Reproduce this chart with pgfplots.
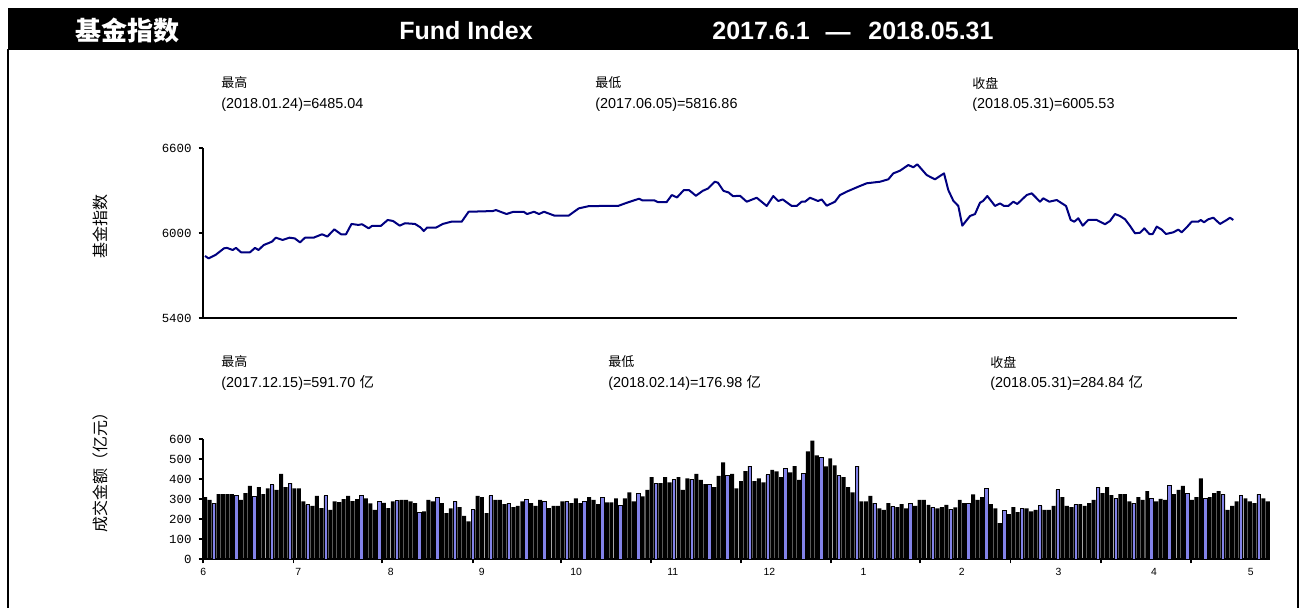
\documentclass[border=0pt]{standalone}
\usepackage{pgfplots}
\pgfplotsset{compat=1.18}
\usepackage{pgfplotstable}
\usepackage{fontspec}
\setmainfont{Liberation Sans}
\newfontfamily\cjk{Noto Sans CJK SC}
\newfontfamily\tickfont{Liberation Mono}
\definecolor{barblue}{RGB}{130,130,232}
\definecolor{linenavy}{RGB}{0,0,128}

\pgfplotstableread{
x y
2 5838
5.6 5821
12.5 5845
21 5892
24 5895
29.7 5880
33 5895
38 5864
47 5864
52 5895
55.5 5880
60.7 5915
69 5939
72.8 5967
79.6 5951
86.5 5967
91.7 5962
97 5934
102 5967
110.6 5967
119 5991
124.4 5975
131.3 6026
138 5991
143 5991
148.5 6064
155.4 6057
159 6062
165.7 6033
169 6050
177.8 6050
184.7 6092
190 6085
196.7 6052
202 6069
212 6064
217.4 6040
220.8 6014
224 6038
233 6038
239.8 6064
248.4 6080
258.7 6080
265.6 6150
289.7 6155
293 6162
303.5 6134
310.4 6150
320.7 6150
324 6134
331 6150
336 6134
341 6150
351.7 6122
365.5 6122
375.8 6174
386 6190
415.4 6192
424 6214
436 6242
439.5 6230
451.5 6230
455 6218
463.6 6218
468.8 6268
474 6251
480.8 6303
486 6303
492.9 6263
499.8 6298
505 6314
511.8 6362
515 6355
520.4 6298
525.6 6286
530 6260
537 6263
543.7 6221
553.7 6249
563.7 6191
570.3 6261
575.3 6226
579.7 6237
588.7 6191
593.7 6191
598.7 6221
602 6221
607 6249
615 6226
618.7 6237
623.7 6193
632 6221
637 6268
643.7 6292
657 6332
663.7 6351
677 6362
685.3 6379
690.3 6421
697 6440
705.3 6480
710.3 6464
714.3 6485
723.7 6409
727 6397
732 6379
741 6421
745.3 6303
750.3 6228
755.3 6191
759.3 6052
767 6120
772 6134
777 6214
780 6226
784.3 6261
792 6191
797 6209
801 6191
805.3 6191
810.3 6221
814.3 6205
823.7 6268
828.7 6280
837 6221
840.3 6245
846.3 6221
853.7 6233
863 6191
867.7 6092
871.3 6080
875.3 6104
879.7 6052
885.3 6092
893.7 6092
902 6062
907 6085
912 6134
917 6120
922 6097
927 6050
932 5998
937 6002
941.3 6033
946.3 5993
949.7 5993
953.7 6045
958.7 6024
963 5993
970.3 6005
975.3 6024
978.7 6005
983.7 6040
988.7 6080
995.3 6080
997.7 6092
1001 6076
1005.3 6097
1010.3 6108
1017 6064
1023.7 6092
1027 6108
1030.3 6092
}\linedata

\pgfplotstableread{
idx val c
0 310 0
1 296 0
2 280 1
3 325 0
4 325 0
5 325 0
6 325 0
7 320 1
8 296 0
9 330 0
10 366 0
11 313 1
12 360 0
13 325 0
14 353 0
15 371 1
16 346 0
17 426 0
18 360 0
19 380 1
20 353 0
21 353 0
22 288 0
23 271 1
24 266 0
25 316 0
26 255 0
27 316 1
28 246 0
29 288 0
30 285 0
31 300 0
32 316 0
33 290 0
34 300 0
35 320 1
36 303 0
37 278 0
38 246 0
39 287 1
40 281 0
41 254 0
42 288 0
43 293 1
44 296 0
45 296 0
46 288 0
47 280 0
48 235 1
49 238 0
50 296 0
51 288 0
52 308 1
53 280 0
54 230 0
55 253 0
56 288 1
57 260 0
58 216 0
59 188 0
60 246 1
61 316 0
62 310 0
63 230 0
64 316 1
65 296 0
66 296 0
67 275 0
68 280 1
69 260 0
70 266 0
71 288 0
72 296 1
73 280 0
74 266 0
75 296 0
76 288 1
77 255 0
78 266 0
79 266 0
80 288 0
81 288 1
82 280 0
83 303 0
84 280 0
85 288 1
86 310 0
87 296 0
88 275 0
89 310 1
90 283 0
91 283 0
92 303 0
93 266 1
94 303 0
95 333 0
96 288 0
97 330 1
98 313 0
99 346 0
100 410 0
101 380 1
102 380 0
103 410 0
104 383 0
105 396 1
106 410 0
107 346 0
108 403 0
109 400 1
110 426 0
111 396 0
112 375 0
113 371 1
114 360 0
115 416 0
116 483 0
117 416 1
118 426 0
119 353 0
120 390 0
121 440 0
122 465 1
123 390 0
124 403 0
125 383 0
126 421 1
127 446 0
128 438 0
129 410 0
130 451 1
131 433 0
132 465 0
133 396 0
134 430 1
135 538 0
136 592 0
137 518 0
138 510 1
139 463 0
140 503 0
141 468 0
142 416 1
143 410 0
144 360 0
145 333 0
146 465 1
147 288 0
148 288 0
149 316 0
150 280 1
151 253 0
152 246 0
153 280 0
154 263 1
155 260 0
156 275 0
157 253 0
158 280 1
159 266 0
160 296 0
161 296 0
162 271 0
163 258 1
164 253 0
165 260 0
166 271 0
167 250 1
168 258 0
169 296 0
170 280 0
171 280 1
172 323 0
173 296 0
174 310 0
175 351 1
176 275 0
177 253 0
178 180 0
179 243 1
180 225 0
181 260 0
182 235 0
183 253 1
184 253 0
185 238 0
186 246 0
187 266 1
188 246 0
189 246 0
190 266 0
191 346 1
192 310 0
193 266 0
194 260 0
195 271 1
196 275 0
197 266 0
198 280 0
199 296 0
200 360 1
201 330 0
202 360 0
203 320 0
204 301 1
205 325 0
206 325 0
207 288 0
208 280 1
209 310 0
210 296 0
211 340 0
212 303 1
213 288 0
214 301 0
215 296 0
216 366 1
217 325 0
218 346 0
219 366 0
220 330 1
221 296 0
222 310 0
223 403 0
224 301 1
225 310 0
226 330 0
227 340 0
228 323 1
229 246 0
230 266 0
231 288 0
232 316 1
233 303 0
234 288 0
235 280 0
236 323 1
237 303 0
238 288 0
}\bardata

\begin{document}
\begin{tikzpicture}
\useasboundingbox (0,0) rectangle (653pt,-303.5pt);
\begin{scope}[x=0.5pt,y=-0.5pt]
\fill[black] (8,8) rectangle (1298,50);
\draw[line width=1pt] (8,49) -- (8,610);
\draw[line width=1pt] (1298,49) -- (1298,610);
\node[white,font=\cjk\bfseries\fontsize{13}{13}\selectfont] at (127,31) {基金指数};
\node[white,font=\bfseries\fontsize{12.5}{12.5}\selectfont] at (466,31) {Fund Index};
\node[white,anchor=west,inner sep=0pt,font=\bfseries\fontsize{12.5}{12.5}\selectfont] at (712,31) {2017.6.1};
\node[white,anchor=base,inner sep=0pt,font=\bfseries\fontsize{12.5}{12.5}\selectfont] at (838,40) {—};
\node[white,anchor=west,inner sep=0pt,font=\bfseries\fontsize{12.5}{12.5}\selectfont] at (868,31) {2018.05.31};
% annotations row 1
\node[anchor=west,inner sep=0pt,font=\cjk\fontsize{6.5}{7}\selectfont] at (221,83) {最高};
\node[anchor=west,inner sep=0pt,font=\fontsize{7.2}{8}\selectfont] at (221,105) {(2018.01.24)=6485.04};
\node[anchor=west,inner sep=0pt,font=\cjk\fontsize{6.5}{7}\selectfont] at (595,83) {最低};
\node[anchor=west,inner sep=0pt,font=\fontsize{7.2}{8}\selectfont] at (595,105) {(2017.06.05)=5816.86};
\node[anchor=west,inner sep=0pt,font=\cjk\fontsize{6.5}{7}\selectfont] at (972,83) {收盘};
\node[anchor=west,inner sep=0pt,font=\fontsize{7.2}{8}\selectfont] at (972,105) {(2018.05.31)=6005.53};
% annotations row 2
\node[anchor=west,inner sep=0pt,font=\cjk\fontsize{6.5}{7}\selectfont] at (221,362) {最高};
\node[anchor=west,inner sep=0pt,font=\fontsize{7.2}{8}\selectfont] at (221,383) {(2017.12.15)=591.70 {\cjk 亿}};
\node[anchor=west,inner sep=0pt,font=\cjk\fontsize{6.5}{7}\selectfont] at (608,362) {最低};
\node[anchor=west,inner sep=0pt,font=\fontsize{7.2}{8}\selectfont] at (608,383) {(2018.02.14)=176.98 {\cjk 亿}};
\node[anchor=west,inner sep=0pt,font=\cjk\fontsize{6.5}{7}\selectfont] at (990,362) {收盘};
\node[anchor=west,inner sep=0pt,font=\fontsize{7.2}{8}\selectfont] at (990,383) {(2018.05.31)=284.84 {\cjk 亿}};
% y labels
\node[rotate=90,font=\cjk\fontsize{8}{8}\selectfont] at (100,226) {基金指数};
\node[rotate=90,font=\cjk\fontsize{8}{8}\selectfont] at (100,468) {成交金额（亿元）};
\end{scope}

\begin{axis}[
  at={(101.5pt,-159pt)}, anchor=south west, scale only axis,
  width=517pt, height=85pt,
  xmin=0, xmax=1034, ymin=5400, ymax=6600,
  axis x line*=bottom, axis y line*=left,
  axis line style={line width=1pt},
  xtick=\empty, ytick={5400,6000,6600},
  tick align=outside, major tick length=2.2pt,
  tick style={line width=0.8pt, black},
  yticklabel style={font=\tickfont\fontsize{6.2}{6.2}\selectfont},
  /pgf/number format/assume math mode=true,
  /pgf/number format/1000 sep={},
  scaled y ticks=false,
]
\addplot[linenavy, line width=1pt, line join=round] table[x=x,y=y]{\linedata};
\end{axis}

\begin{axis}[
  at={(101.5pt,-279.5pt)}, anchor=south west, scale only axis,
  width=533.5pt, height=60pt,
  xmin=-0.5, xmax=238.5, ymin=0, ymax=600,
  axis x line*=bottom, axis y line*=left,
  axis line style={line width=1pt},
  ytick={0,100,200,300,400,500,600},
  xtick={-0.5,19.73,39.53,59.92,79.70,99.79,119.95,140.11,160.12,180.39,200.60,220.76},
  xticklabels={},
  extra x ticks={-0.43,20.85,41.55,61.93,83.06,104.72,126.36,147.42,169.46,191.1,212.54,234.2},
  extra x tick labels={6,7,8,9,10,11,12,1,2,3,4,5},
  extra x tick style={major tick length=0pt, xticklabel style={font=\fontsize{5.2}{5.2}\selectfont, yshift=-1pt}},
  tick align=outside, major tick length=2.2pt,
  tick style={line width=0.8pt, black},
  yticklabel style={font=\tickfont\fontsize{6.2}{6.2}\selectfont},
  /pgf/number format/assume math mode=true,
  /pgf/number format/1000 sep={},
  scaled y ticks=false,
]
\addplot[ybar, bar width=0.88, bar shift=0pt, fill=black, draw=none] table[x=idx,y=val]{\bardata};
\addplot[ybar, bar width=0.78, bar shift=0pt, fill=barblue, draw=black, line width=0.5pt,
  restrict expr to domain={\thisrow{c}}{0.5:1.5}] table[x=idx,y=val]{\bardata};
\end{axis}
\end{tikzpicture}
\end{document}
